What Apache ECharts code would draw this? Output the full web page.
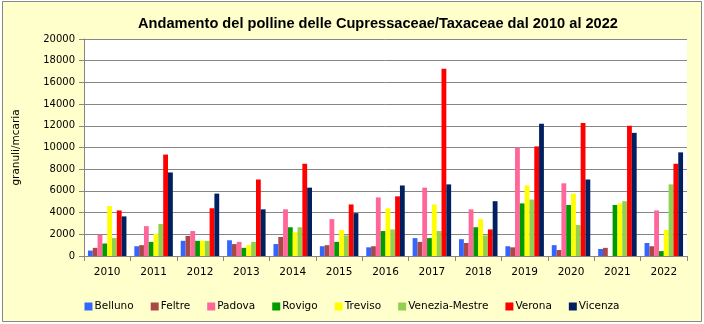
<!DOCTYPE html>
<html>
<head>
<meta charset="utf-8">
<script src="https://cdn.jsdelivr.net/npm/echarts@6/dist/echarts.min.js"></script>
<style>
  html, body { margin: 0; padding: 0; background: #ffffff; }
  #chart { width: 704px; height: 324px; }
</style>
</head>
<body>
<div id="chart"></div>
<script>
// Annual Cupressaceae/Taxaceae pollen totals (granuli/m³ aria) per station
const years = ['2010', '2011', '2012', '2013', '2014', '2015', '2016', '2017', '2018', '2019', '2020', '2021', '2022'];
const belluno = [500, 900, 1400, 1450, 1100, 900, 800, 1650, 1550, 900, 1000, 650, 1200];
const feltre  = [750, 1000, 1850, 1100, 1750, 1000, 900, 1300, 1200, 800, 550, 750, 900];
const padova  = [1950, 2750, 2300, 1300, 4300, 3400, 5400, 6300, 4300, 10000, 6700, null, 4200];
const rovigo  = [1150, 1300, 1400, 750, 2650, 1300, 2300, 1650, 2650, 4850, 4700, 4700, 450];
const treviso = [4600, 2050, 1400, 1000, 2200, 2400, 4400, 4750, 3400, 6500, 5750, 4850, 2400];
const veneziaMestre = [1650, 2950, 1400, 1300, 2650, 1900, 2450, 2300, 1900, 5200, 2850, 5050, 6600];
const verona  = [4200, 9350, 4400, 7050, 8500, 4750, 5500, 17250, 2450, 10100, 12250, 12000, 8500];
const vicenza = [3650, 7700, 5750, 4300, 6300, 3950, 6500, 6600, 5050, 12200, 7050, 11350, 9550];
const yTicks = { min: 0, max: 20000, step: 2000 };

const stations = [
  { name: 'Belluno', data: belluno, color: '#3366FF' },
  { name: 'Feltre', data: feltre, color: '#AA4848' },
  { name: 'Padova', data: padova, color: '#FF6699' },
  { name: 'Rovigo', data: rovigo, color: '#009900' },
  { name: 'Treviso', data: treviso, color: '#FFFF00' },
  { name: 'Venezia-Mestre', data: veneziaMestre, color: '#92D050' },
  { name: 'Verona', data: verona, color: '#FF0000' },
  { name: 'Vicenza', data: vicenza, color: '#002060' }
];

const FONT = 'DejaVu Sans';
const GRID_GRAY = '#868686';

const chart = echarts.init(document.getElementById('chart'), null, { renderer: 'canvas' });

chart.setOption({
  animation: false,
  backgroundColor: 'transparent',
  graphic: [{
    type: 'rect',
    z: -10,
    silent: true,
    shape: { x: 2.5, y: 1.5, width: 699, height: 320 },
    style: { fill: '#FFFFCC', stroke: GRID_GRAY, lineWidth: 1 }
  }],
  title: {
    text: 'Andamento del polline delle Cupressaceae/Taxaceae dal 2010 al 2022',
    left: 373,
    textAlign: 'center',
    top: 11,
    textStyle: { fontFamily: 'Liberation Sans', fontSize: 14.6, fontWeight: 'bold', color: '#000' }
  },
  legend: {
    top: 296,
    left: 'center',
    itemWidth: 8,
    itemHeight: 8,
    itemGap: 17,
    icon: 'rect',
    textStyle: { fontFamily: FONT, fontSize: 10.5, color: '#000', padding: [0, 0, 0, -3] },
    data: stations.map(s => s.name)
  },
  grid: {
    left: 84, right: 17, top: 39, bottom: 68,
    show: true, backgroundColor: '#FFFFFF', borderWidth: 0
  },
  xAxis: {
    type: 'category',
    data: years,
    axisLine: { lineStyle: { color: GRID_GRAY, width: 1 } },
    axisTick: { show: true, length: 5, lineStyle: { color: GRID_GRAY } },
    axisLabel: { fontFamily: FONT, fontSize: 10.5, color: '#000', margin: 11 }
  },
  yAxis: {
    type: 'value',
    min: yTicks.min, max: yTicks.max, interval: yTicks.step,
    name: 'granuli/mcaria',
    nameLocation: 'middle',
    nameGap: 62,
    nameRotate: 90,
    nameTextStyle: { fontFamily: FONT, fontSize: 10.5, color: '#000' },
    axisLine: { show: true, lineStyle: { color: GRID_GRAY, width: 1 } },
    axisTick: { show: true, length: 5, lineStyle: { color: GRID_GRAY } },
    splitLine: { show: true, lineStyle: { color: GRID_GRAY, width: 1 } },
    axisLabel: {
      fontFamily: FONT, fontSize: 10, color: '#000', margin: 9,
      formatter: v => String(v)
    }
  },
  series: stations.map(s => ({
    name: s.name,
    type: 'bar',
    data: s.data,
    barGap: '0%',
    barCategoryGap: '17%',
    itemStyle: { color: s.color }
  }))
});
</script>
</body>
</html>
